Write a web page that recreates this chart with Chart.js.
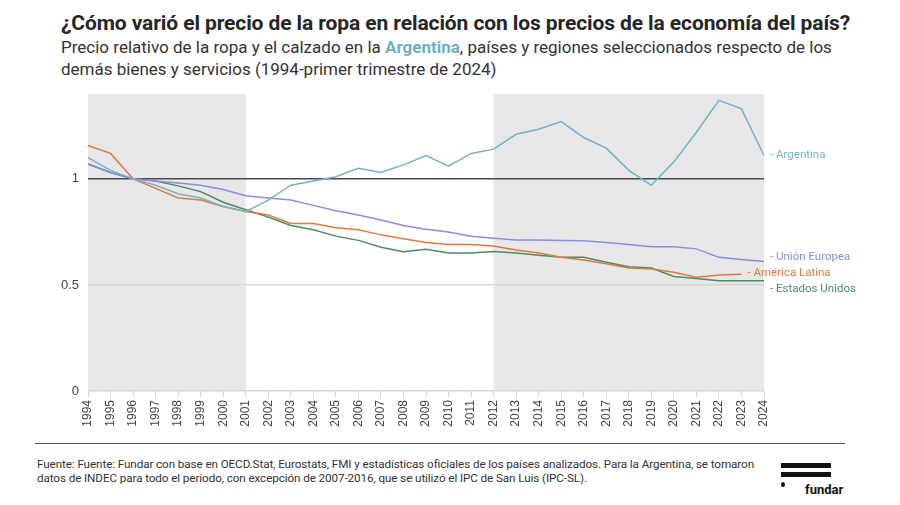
<!DOCTYPE html>
<html>
<head>
<meta charset="utf-8">
<script src="https://cdn.jsdelivr.net/npm/chart.js@4.4.0/dist/chart.umd.min.js"></script>
<style>
  body { margin: 0; width: 900px; height: 505px; background: #fff; position: relative; overflow: hidden; font-family: Roboto, sans-serif; }
  #title { position: absolute; left: 61px; top: 11px; font-size: 21px; font-weight: bold; color: #262626; white-space: nowrap; letter-spacing: -0.1px; }
  #subtitle { position: absolute; left: 61px; top: 36px; font-size: 17px; line-height: 22px; color: #333; }
  #subtitle b { color: #6FAEC6; }
  #chart { position: absolute; left: 0; top: 0; }
  #rule { position: absolute; left: 35px; top: 443px; width: 810px; height: 0; border-top: 1.5px solid #555; }
  #source { position: absolute; left: 37px; top: 458px; font-size: 11.7px; line-height: 13.5px; color: #333; white-space: nowrap; letter-spacing: -0.1px; }
  .bar { position: absolute; left: 781px; width: 50px; height: 4.5px; background: #111; }
  #dot { position: absolute; left: 781px; top: 482px; width: 4px; height: 5px; border-radius: 50%; background: #111; }
  #fundar { position: absolute; left: 805px; top: 482px; font-size: 13px; font-weight: bold; color: #111; }
</style>
</head>
<body>
<div id="title">¿Cómo varió el precio de la ropa en relación con los precios de la economía del país?</div>
<div id="subtitle">Precio relativo de la ropa y el calzado en la <b>Argentina</b>, países y regiones seleccionados respecto de los<br>demás bienes y servicios (1994-primer trimestre de 2024)</div>
<canvas id="chart" width="900" height="445"></canvas>
<div id="rule"></div>
<div id="source">Fuente: Fuente: Fundar con base en OECD.Stat, Eurostats, FMI y estadísticas oficiales de los países analizados. Para la Argentina, se tomaron<br>datos de INDEC para todo el período, con excepción de 2007-2016, que se utilizó el IPC de San Luis (IPC-SL).</div>
<div class="bar" style="top:463px"></div>
<div class="bar" style="top:472px"></div>
<div id="dot"></div>
<div id="fundar">fundar</div>
<script>
// Data
const years = ["1994","1995","1996","1997","1998","1999","2000","2001","2002","2003","2004","2005","2006","2007","2008","2009","2010","2011","2012","2013","2014","2015","2016","2017","2018","2019","2020","2021","2022","2023","2024"];
const argentina = [1.10, 1.04, 1.00, 0.97, 0.93, 0.91, 0.87, 0.845, 0.90, 0.97, 0.99, 1.01, 1.05, 1.03, 1.066, 1.11, 1.06, 1.12, 1.14, 1.21, 1.234, 1.27, 1.195, 1.145, 1.04, 0.97, 1.08, 1.22, 1.37, 1.33, 1.11];
const unionEuropea = [1.07, 1.03, 1.00, 0.99, 0.98, 0.97, 0.95, 0.92, 0.91, 0.90, 0.875, 0.85, 0.83, 0.806, 0.78, 0.763, 0.75, 0.73, 0.72, 0.712, 0.712, 0.71, 0.708, 0.70, 0.69, 0.68, 0.68, 0.67, 0.63, 0.62, 0.61];
const americaLatina = [1.157, 1.12, 1.00, 0.955, 0.91, 0.90, 0.87, 0.846, 0.83, 0.79, 0.79, 0.77, 0.76, 0.736, 0.718, 0.70, 0.69, 0.69, 0.684, 0.665, 0.65, 0.63, 0.618, 0.60, 0.58, 0.575, 0.56, 0.536, 0.547, 0.55, null];
const estadosUnidos = [1.07, 1.03, 1.00, 0.99, 0.967, 0.94, 0.89, 0.854, 0.82, 0.78, 0.76, 0.73, 0.71, 0.678, 0.657, 0.668, 0.65, 0.65, 0.657, 0.65, 0.64, 0.63, 0.63, 0.607, 0.586, 0.58, 0.54, 0.53, 0.52, 0.52, 0.52];
const yTicks = [0, 0.5, 1];
const shadedPeriods = [["1994", "2001"], ["2012", "2024"]];

const series = [
  { label: "Argentina", data: argentina, color: "#79B1C5", dy: 0, dx: 6 },
  { label: "Unión Europea", data: unionEuropea, color: "#8C8CE3", dy: -4, dx: 6 },
  { label: "América Latina", data: americaLatina, color: "#E07A3F", dy: -1, dx: 6 },
  { label: "Estados Unidos", data: estadosUnidos, color: "#4F8A66", dy: 8, dx: 6 }
];

// grey background periods, drawn under the grid
const bandsPlugin = {
  id: "bands",
  beforeDraw(chart) {
    const { ctx, chartArea, scales } = chart;
    ctx.save();
    ctx.fillStyle = "#E8E8E8";
    for (const [a, b] of shadedPeriods) {
      const x1 = scales.x.getPixelForValue(years.indexOf(a));
      const x2 = scales.x.getPixelForValue(years.indexOf(b));
      ctx.fillRect(x1, chartArea.top, x2 - x1, scales.y.getPixelForValue(0) - chartArea.top);
    }
    ctx.restore();
  }
};

// labels at the end of each line
const endLabelsPlugin = {
  id: "endLabels",
  afterDatasetsDraw(chart) {
    const { ctx } = chart;
    ctx.save();
    ctx.font = "11.5px Roboto, sans-serif";
    ctx.textBaseline = "middle";
    chart.data.datasets.forEach((ds, i) => {
      const meta = chart.getDatasetMeta(i);
      let last = ds.data.length - 1;
      while (ds.data[last] == null) last--;
      const pt = meta.data[last];
      const s = series[i];
      ctx.fillStyle = s.color;
      ctx.fillText("- " + s.label, pt.x + s.dx, pt.y + s.dy);
    });
    ctx.restore();
  }
};

new Chart(document.getElementById("chart"), {
  type: "line",
  data: {
    labels: years,
    datasets: series.map(s => ({
      label: s.label,
      data: s.data,
      borderColor: s.color,
      borderWidth: 1.5,
      pointRadius: 0,
      tension: 0,
      fill: false
    }))
  },
  options: {
    responsive: false,
    animation: false,
    devicePixelRatio: 1,
    layout: { padding: { left: 0, right: 136, top: 94, bottom: 0 } },
    plugins: { legend: { display: false }, tooltip: { enabled: false } },
    scales: {
      x: {
        offset: false,
        afterFit(scale) { scale.height = 54; },
        border: { display: false },
        grid: { drawOnChartArea: false, tickLength: 6, color: "#D8D8D8" },
        ticks: {
          autoSkip: false, minRotation: 90, maxRotation: 90, padding: 3,
          color: "#444", font: { family: "Liberation Sans, Arial, sans-serif", size: 12 }
        }
      },
      y: {
        min: 0, max: 1.4,
        afterFit(scale) { scale.width = 88; },
        afterBuildTicks(scale) { scale.ticks = yTicks.map(v => ({ value: v })); },
        border: { display: false },
        grid: {
          drawTicks: false,
          color: ctx => ctx.tick && ctx.tick.value === 1 ? "#4A4A4A" : "#D6D6D6",
          lineWidth: 1.5
        },
        ticks: {
          padding: 9, color: "#444",
          font: { family: "Liberation Sans, Arial, sans-serif", size: 13 },
          callback: v => String(v)
        }
      }
    }
  },
  plugins: [bandsPlugin, endLabelsPlugin]
});
</script>
</body>
</html>
